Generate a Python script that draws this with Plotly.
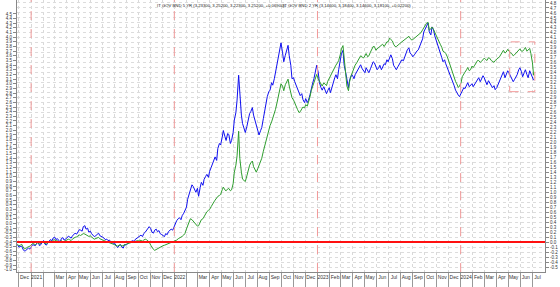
import pandas as pd
import numpy as np
import plotly.graph_objects as go

# ---------------- data ----------------
# Friday closes (weekly) and the following Tuesday closes.
fri_dates = pd.date_range("2020-11-27", "2024-07-05", freq="7D")
tue_dates = fri_dates[:-1] + pd.Timedelta(days=4)

bnd5_fri = [
    -0.05, -0.09, -0.14, -0.17, -0.12,
    -0.09, -0.06, -0.03, -0.07, 0.00,
    -0.04, -0.02, 0.05, 0.08,
    0.05, 0.03, 0.07, 0.04,
    0.08, 0.10, 0.12, 0.18, 0.21,
    0.24, 0.31, 0.26, 0.20,
    0.17, 0.11, 0.16, 0.13,
    0.10, 0.05, 0.03, 0.00, -0.04,
    -0.08, -0.07, -0.10, -0.05,
    -0.03, 0.00, 0.03, 0.06,
    0.10, 0.14, 0.17, 0.23, 0.31,
    0.20, 0.24, 0.21, 0.17,
    0.13, 0.17, 0.21, 0.26, 0.31,
    0.43, 0.49, 0.53, 0.62,
    0.86, 1.05, 1.12, 1.00,
    0.92, 1.20, 1.26, 1.36,
    1.42, 1.56, 1.71, 1.88, 1.95,
    2.24, 2.04, 2.16, 2.04,
    2.45, 2.85, 2.90, 2.38,
    2.20, 2.45, 2.62, 2.55, 2.33,
    2.15, 2.30, 2.62, 2.92,
    3.05, 3.15, 3.42, 3.72, 4.00,
    3.62, 3.86, 3.74, 3.28,
    3.22, 3.08, 2.94, 2.86,
    2.88, 2.85, 3.08, 3.28, 3.55,
    3.20, 3.05, 3.06, 3.04,
    3.00, 3.22, 3.36, 3.46,
    3.78, 3.55, 3.24, 3.26, 3.35,
    3.36, 3.46, 3.56, 3.44,
    3.50, 3.40, 3.56, 3.60,
    3.46, 3.55, 3.50, 3.56, 3.62,
    3.76, 3.55, 3.46, 3.56,
    3.66, 3.72, 3.86, 3.80,
    3.72, 3.80, 3.86, 3.98, 4.22,
    4.36, 4.22, 4.32, 4.14,
    3.95, 3.80, 3.62, 3.58,
    3.45, 3.30, 3.15, 3.00, 2.92,
    3.02, 3.08, 3.20, 3.14,
    3.12, 3.22, 3.30, 3.26,
    3.30, 3.16, 3.20, 3.10, 3.06,
    3.16, 3.26, 3.42, 3.36,
    3.40, 3.30, 3.26, 3.36, 3.50,
    3.32, 3.46, 3.30, 3.38,
    3.25,
]
bnd5_tue = [
    -0.10, -0.08, -0.18, -0.13, -0.14,
    -0.05, -0.07, 0.01, -0.05, 0.03,
    -0.06, 0.02, 0.03, 0.10,
    0.07, 0.00, 0.09, 0.06,
    0.12, 0.08, 0.15, 0.16, 0.25,
    0.22, 0.33, 0.28, 0.22,
    0.14, 0.13, 0.18, 0.12,
    0.08, 0.06, 0.04, -0.01, -0.03,
    -0.11, -0.05, -0.12, -0.06,
    -0.01, 0.02, 0.01, 0.08,
    0.12, 0.11, 0.20, 0.26, 0.27,
    0.18, 0.26, 0.23, 0.15,
    0.11, 0.15, 0.24, 0.24, 0.36,
    0.47, 0.45, 0.58, 0.70,
    0.98, 1.15, 1.04, 1.08,
    1.10, 1.14, 1.32, 1.30,
    1.50, 1.66, 1.64, 1.98, 2.10,
    2.12, 2.18, 1.98, 2.20,
    2.60, 3.35, 2.55, 2.28,
    2.32, 2.58, 2.70, 2.42, 2.22,
    2.24, 2.48, 2.75, 3.02,
    3.20, 3.28, 3.60, 3.90, 3.80,
    3.75, 3.95, 3.55, 3.30,
    3.15, 3.00, 2.98, 2.80,
    2.80, 2.96, 3.20, 3.42, 3.40,
    3.10, 3.12, 2.98, 3.10,
    3.12, 3.30, 3.28, 3.62,
    3.85, 3.40, 3.10, 3.34, 3.28,
    3.42, 3.52, 3.48, 3.40,
    3.42, 3.48, 3.62, 3.52,
    3.50, 3.46, 3.58, 3.66, 3.70,
    3.68, 3.50, 3.52, 3.62,
    3.64, 3.80, 3.90, 3.76,
    3.76, 3.84, 3.94, 4.08, 4.30,
    4.40, 4.16, 4.26, 4.05,
    3.88, 3.70, 3.66, 3.50,
    3.38, 3.20, 3.05, 2.95, 2.98,
    3.10, 3.14, 3.12, 3.18,
    3.18, 3.28, 3.22, 3.34,
    3.20, 3.24, 3.12, 3.14, 3.10,
    3.22, 3.36, 3.30, 3.44,
    3.34, 3.22, 3.32, 3.46, 3.42,
    3.40, 3.36, 3.44, 3.30,
]

bnd2_fri = [
    -0.45, -0.47, -0.50, -0.54, -0.50,
    -0.46, -0.44, -0.43, -0.45, -0.40,
    -0.43, -0.42, -0.38, -0.36,
    -0.38, -0.40, -0.37, -0.39,
    -0.36, -0.35, -0.34, -0.30, -0.28,
    -0.26, -0.22, -0.25, -0.28,
    -0.30, -0.34, -0.31, -0.33,
    -0.35, -0.38, -0.40, -0.42, -0.45,
    -0.48, -0.47, -0.49, -0.46,
    -0.44, -0.42, -0.40, -0.39,
    -0.38, -0.37, -0.36, -0.35, -0.40,
    -0.52, -0.58, -0.55, -0.50,
    -0.48, -0.46, -0.44, -0.42, -0.40,
    -0.36, -0.32, -0.28, -0.22,
    -0.05, 0.10, 0.05, -0.02,
    -0.05, 0.08, 0.15, 0.25,
    0.30, 0.42, 0.50, 0.58, 0.62,
    0.78, 0.70, 0.75, 0.72,
    1.10, 1.45, 1.40, 0.95,
    0.90, 1.15, 1.30, 1.22, 1.10,
    1.25, 1.40, 1.65, 1.90,
    2.10, 2.25, 2.45, 2.70, 3.00,
    2.85, 3.05, 2.95, 2.70,
    2.60, 2.45, 2.40, 2.50,
    2.55, 2.60, 2.85, 3.00, 3.20,
    3.05, 2.95, 3.00, 3.05,
    3.15, 3.30, 3.40, 3.50,
    3.75, 3.55, 2.95, 3.05, 3.25,
    3.40, 3.50, 3.60, 3.55,
    3.65, 3.60, 3.75, 3.80,
    3.75, 3.80, 3.85, 3.85, 3.90,
    3.95, 3.85, 3.80, 3.85,
    3.90, 3.95, 4.00, 3.98,
    3.95, 4.00, 4.05, 4.10, 4.20,
    4.30, 4.15, 4.22, 4.10,
    3.95, 3.85, 3.70, 3.65,
    3.50, 3.35, 3.15, 3.00, 2.95,
    3.15, 3.25, 3.35, 3.30,
    3.35, 3.45, 3.50, 3.48,
    3.55, 3.50, 3.55, 3.48, 3.50,
    3.55, 3.62, 3.72, 3.68,
    3.70, 3.65, 3.62, 3.68, 3.75,
    3.70, 3.78, 3.72, 3.65,
    3.18,
]
bnd2_tue = [
    -0.48, -0.45, -0.55, -0.51, -0.49,
    -0.43, -0.46, -0.41, -0.42, -0.41,
    -0.44, -0.39, -0.40, -0.35,
    -0.37, -0.39, -0.40, -0.37,
    -0.34, -0.37, -0.31, -0.29, -0.25,
    -0.24, -0.23, -0.27, -0.27,
    -0.32, -0.33, -0.30, -0.35,
    -0.37, -0.39, -0.41, -0.44, -0.46,
    -0.49, -0.46, -0.47, -0.45,
    -0.43, -0.41, -0.41, -0.37,
    -0.36, -0.38, -0.34, -0.37, -0.47,
    -0.56, -0.56, -0.52, -0.49,
    -0.47, -0.45, -0.43, -0.41, -0.38,
    -0.33, -0.30, -0.25, -0.12,
    0.05, 0.08, 0.02, -0.06,
    0.02, 0.10, 0.20, 0.28,
    0.36, 0.46, 0.55, 0.60, 0.72,
    0.72, 0.74, 0.70, 0.85,
    1.25, 1.98, 1.10, 0.92,
    1.02, 1.25, 1.34, 1.15, 1.18,
    1.32, 1.55, 1.78, 2.02,
    2.18, 2.35, 2.60, 2.88, 2.95,
    2.98, 3.10, 2.80, 2.65,
    2.52, 2.38, 2.46, 2.48,
    2.52, 2.72, 2.95, 3.12, 3.10,
    3.00, 3.02, 2.96, 3.12,
    3.22, 3.36, 3.45, 3.62,
    3.82, 3.10, 2.85, 3.18, 3.32,
    3.45, 3.55, 3.58, 3.60,
    3.58, 3.68, 3.80, 3.72,
    3.78, 3.84, 3.80, 3.90, 3.98,
    3.92, 3.80, 3.84, 3.88,
    3.92, 3.98, 4.02, 3.94,
    3.98, 4.02, 4.08, 4.16, 4.28,
    4.32, 4.18, 4.16, 4.02,
    3.90, 3.78, 3.68, 3.58,
    3.42, 3.25, 3.05, 2.92, 3.02,
    3.22, 3.30, 3.28, 3.38,
    3.40, 3.50, 3.46, 3.52,
    3.52, 3.56, 3.50, 3.46, 3.52,
    3.58, 3.68, 3.66, 3.74,
    3.66, 3.60, 3.66, 3.72, 3.70,
    3.74, 3.70, 3.76, 3.45,
]

legend_texts = [
    "IT GOV BND 5 YR (3.23300, 3.25200, 3.22300, 3.25200, +0.06900),",
    "IT GOV BND 2 YR (3.14600, 3.18400, 3.14600, 3.18100, +0.02200)",
]

year_starts = ["2021-01-01", "2022-01-01", "2023-01-01", "2024-01-01"]

month_starts = pd.date_range("2020-12-01", "2024-07-01", freq="MS")
month_labels = []
for d in month_starts:
    if d.month == 1:
        month_labels.append(str(d.year))
    elif d.month == 2 and d.year in (2021, 2022):
        month_labels.append("")
    else:
        month_labels.append(d.strftime("%b"))
month_mid = [d + pd.Timedelta(days=14) for d in month_starts]

right_ticks = [round(v, 1) for v in np.arange(-0.5, 4.81, 0.1)]
left_ticks = [round(v, 1) for v in np.arange(-1.0, 4.51, 0.1)]


def lbl(v):
    return f"{v:.1f}".replace("-0.0", "0.0")


def merge(fri_vals, tue_vals):
    n = min(len(tue_dates), len(tue_vals))
    s = pd.concat([
        pd.Series(fri_vals[:len(fri_dates)], index=fri_dates[:len(fri_vals)]),
        pd.Series(tue_vals[:n], index=tue_dates[:n]),
    ]).sort_index()
    return s


s5 = merge(bnd5_fri, bnd5_tue)
s2 = merge(bnd2_fri, bnd2_tue)

# ---------------- figure ----------------
FONT = "Liberation Sans, Arial, sans-serif"
fig = go.Figure()

fig.add_trace(go.Scatter(x=s2.index, y=s2.values, mode="lines", yaxis="y2",
                         line=dict(color="#2f9e2f", width=1), showlegend=False))
fig.add_trace(go.Scatter(x=s5.index, y=s5.values, mode="lines", yaxis="y",
                         line=dict(color="#1010f0", width=1), showlegend=False))

shapes = []
for ys in year_starts:
    shapes.append(dict(type="line", xref="x", yref="paper", x0=ys, x1=ys, y0=0, y1=1,
                       line=dict(color="#f29a9a", width=1, dash="dash")))
shapes.append(dict(type="line", xref="paper", yref="y", x0=0, x1=1, y0=0, y1=0,
                   line=dict(color="#ff1010", width=2)))
shapes.append(dict(type="rect", xref="x", yref="y", x0="2024-05-05", x1="2024-07-08",
                   y0=3.02, y1=4.02, line=dict(color="#f29a9a", width=1, dash="dash")))

fig.update_layout(
    width=560, height=287,
    margin=dict(l=17, r=15, t=0, b=15),
    paper_bgcolor="white", plot_bgcolor="white",
    font=dict(family=FONT, size=5, color="#333333"),
    shapes=shapes,
    xaxis=dict(
        type="date", range=["2020-11-26", "2024-08-03"],
        tickvals=month_mid, ticktext=month_labels, ticks="", tickangle=0,
        showgrid=False, zeroline=False,
        showline=True, linecolor="#888888", mirror=True,
        tickfont=dict(size=5, color="#333333"),
        minor=dict(ticks="outside", ticklen=14, tickcolor="#999999",
                   tickvals=list(month_starts), showgrid=True,
                   gridcolor="#d9d9d9", griddash="dot", gridwidth=1),
    ),
    yaxis=dict(
        side="right", range=[-0.6, 4.86],
        tickvals=right_ticks, ticktext=[lbl(v) for v in right_ticks],
        ticks="outside", ticklen=3, tickcolor="#888888",
        showgrid=True, gridcolor="#dcdcdc", griddash="dot", gridwidth=1,
        zeroline=False, showline=True, linecolor="#888888",
        tickfont=dict(size=4.5, color="#333333"),
    ),
    yaxis2=dict(
        overlaying="y", side="left", range=[-1.045, 4.80],
        tickvals=left_ticks, ticktext=[lbl(v) for v in left_ticks],
        ticks="outside", ticklen=3, tickcolor="#888888",
        showgrid=False, zeroline=False, showline=True, linecolor="#888888",
        tickfont=dict(size=4.5, color="#333333"),
    ),
    annotations=[
        dict(xref="paper", yref="paper", x=(155 - 17) / 528, y=0.995, xanchor="left",
             yanchor="top", showarrow=False, text=legend_texts[0],
             font=dict(size=4.25, color="#222222")),
        dict(xref="paper", yref="paper", x=(281 - 17) / 528, y=0.995, xanchor="left",
             yanchor="top", showarrow=False, text=legend_texts[1],
             font=dict(size=4.25, color="#222222")),
    ],
)

fig.write_html("out.html")
